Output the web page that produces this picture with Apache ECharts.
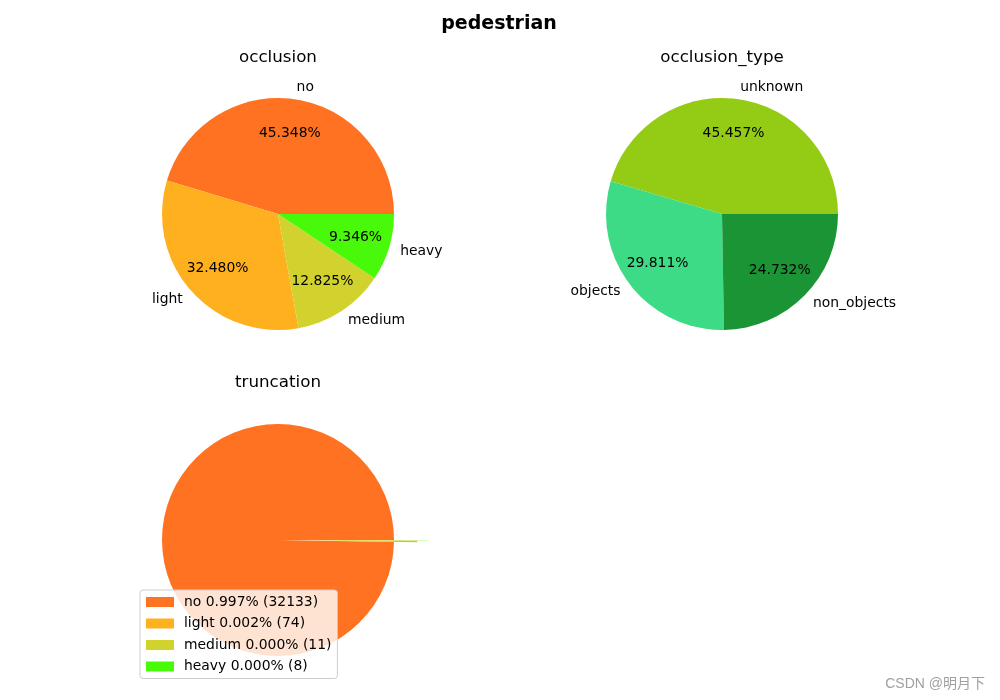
<!DOCTYPE html>
<html><head><meta charset="utf-8">
<script src="https://cdn.jsdelivr.net/npm/echarts@6/dist/echarts.min.js"></script>
<style>html,body{margin:0;padding:0;background:#fff}#c{width:1000px;height:700px}</style>
</head><body><div id="c"></div>
<script>
const chartTitle = 'pedestrian';
const subTitles = ['occlusion', 'occlusion_type', 'truncation'];
const occLabels = ['no', 'light', 'medium', 'heavy'];
const occValues = [45.348, 32.480, 12.825, 9.346];
const typeLabels = ['unknown', 'objects', 'non_objects'];
const typeValues = [45.457, 29.811, 24.732];
const truncLabels = ['no', 'light', 'medium', 'heavy'];
const truncCounts = [32133, 74, 11, 8];
const watermark = 'CSDN @明月下';

const occColors = ['#ff7221', '#ffb01e', '#d2d22e', '#48fa0a'];
const typeColors = ['#94cb14', '#3ddb85', '#1a9435'];
const explode = [0, 0.2, 0.1, 0.3];
const R = 116;
const FS = 13.9;
const FONT = 'DejaVu Sans';

function pieWithLabels(center, labels, values, colors) {
  const data = labels.map((n, i) => ({ name: n, value: values[i], itemStyle: { color: colors[i] } }));
  return [
    {
      type: 'pie', center: center, radius: R, startAngle: 0, clockwise: false,
      avoidLabelOverlap: false, silent: true, animation: false,
      itemStyle: { borderWidth: 0 },
      label: { show: true, position: 'outside', color: '#000', fontSize: FS, fontFamily: FONT,
               distanceToLabelLine: 0, formatter: '{b}' },
      labelLine: { show: false, length: R * 0.1, length2: 0 },
      emphasis: { disabled: true },
      data: data
    },
    {
      type: 'pie', center: center, radius: 156, startAngle: 0, clockwise: false,
      avoidLabelOverlap: false, silent: true, animation: false,
      itemStyle: { color: 'rgba(0,0,0,0)', borderWidth: 0 },
      label: { show: true, position: 'inside', color: '#000', fontSize: FS, fontFamily: FONT,
               formatter: p => p.value.toFixed(3) + '%' },
      labelLine: { show: false },
      emphasis: { disabled: true },
      data: labels.map((n, i) => ({ name: n + '_pct', value: values[i] }))
    }
  ];
}

const total = truncCounts.reduce((a, b) => a + b, 0);
const truncNames = truncLabels.map((n, i) => n + ' ' + (truncCounts[i] / total).toFixed(3) + '% (' + truncCounts[i] + ')');

const series = [].concat(
  pieWithLabels([278, 214], occLabels, occValues, occColors),
  pieWithLabels([722, 214], typeLabels, typeValues, typeColors)
);
truncLabels.forEach((_, k) => {
  series.push({
    type: 'pie', center: [278, 540], radius: R, startAngle: 0, clockwise: false,
    silent: true, animation: false, selectedMode: 'single', selectedOffset: explode[k] * R,
    avoidLabelOverlap: false,
    label: { show: false }, labelLine: { show: false },
    itemStyle: { borderWidth: 0 },
    emphasis: { disabled: true },
    data: truncNames.map((n, i) => ({
      name: n, value: truncCounts[i], selected: i === k && explode[k] > 0,
      itemStyle: { color: i === k ? occColors[i] : 'rgba(0,0,0,0)' }
    }))
  });
});

const subStyle = { fontSize: 16.7, fontWeight: 'normal', color: '#000', fontFamily: FONT };
const chart = echarts.init(document.getElementById('c'), null, { renderer: 'canvas' });
chart.setOption({
  animation: false,
  backgroundColor: '#fff',
  textStyle: { fontFamily: FONT },
  title: [
    { text: chartTitle, left: 499, top: 15, padding: 0, textAlign: 'center',
      textStyle: { fontSize: 19, fontWeight: 'bold', color: '#000', fontFamily: FONT } },
    { text: subTitles[0], left: 278, top: 49, padding: 0, textAlign: 'center', textStyle: subStyle },
    { text: subTitles[1], left: 722, top: 49, padding: 0, textAlign: 'center', textStyle: subStyle },
    { text: subTitles[2], left: 278, top: 374, padding: 0, textAlign: 'center', textStyle: subStyle }
  ],
  legend: {
    orient: 'vertical', left: 140, top: 590, selectedMode: false,
    data: truncNames.map((n, i) => ({ name: n, itemStyle: { color: occColors[i] } })),
    icon: 'rect', itemWidth: 28, itemHeight: 10, itemGap: 7.5,
    padding: [5, 6, 5, 6],
    backgroundColor: 'rgba(255,255,255,0.8)', borderColor: '#cccccc', borderWidth: 1, borderRadius: 3,
    textStyle: { fontSize: FS, color: '#000', fontFamily: FONT, padding: [0, 0, 0, 5] }
  },
  graphic: [{
    type: 'text', right: 15, top: 677,
    style: { text: watermark, fill: '#a0a0a0', font: '14px "Liberation Sans", "Noto Sans CJK SC", sans-serif' }
  }],
  series: series
});
</script>
</body></html>
